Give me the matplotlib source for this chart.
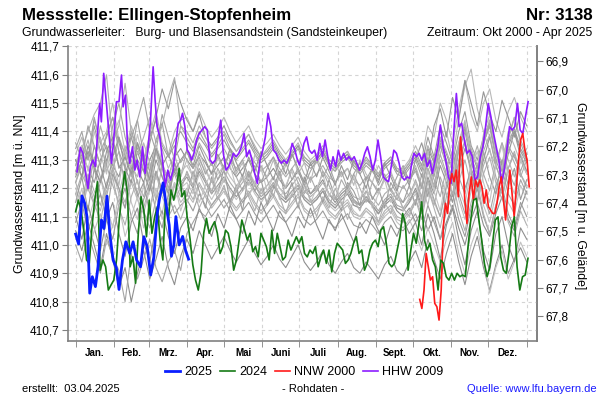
import numpy as np
import matplotlib.pyplot as plt
from matplotlib.ticker import FuncFormatter

plt.rcParams['font.family'] = ['Liberation Sans', 'DejaVu Sans']

# Gelaendehoehe der Messstelle (m ü. NN) fuer die rechte Achse
gelaende = 478.548

# Monatsgrenzen (Tag im Jahr) und Beschriftungen
month_starts = [0, 31, 59, 90, 120, 151, 181, 212, 243, 273, 304, 334, 365]
month_names = ['Jan.', 'Feb.', 'Mrz.', 'Apr.', 'Mai', 'Juni', 'Juli', 'Aug.',
               'Sept.', 'Okt.', 'Nov.', 'Dez.']

# 2025 (blau), Tag im Jahr / Wasserstand m ü. NN
days_2025 = [0, 2.4, 5.1, 7.3, 9.2, 11.4, 13.5, 16, 18.1, 20.9, 22.9, 25.4, 27.6,
             30.3, 33, 35.1, 37.9, 40.6, 43.8, 46.5, 49.3, 52.5, 55.2, 57.9, 60.7,
             63.3, 66, 68.1, 70.8, 73, 75.7, 77.5, 79.5, 81.1, 83.8, 86.6, 89, 91.4]
lvl_2025 = [411.038, 411.003, 411.173, 411.147, 411.099, 410.83, 410.888, 410.853,
            410.923, 411.088, 411.058, 411.172, 411.041, 410.947, 410.918, 410.843,
            410.947, 411.011, 410.97, 411.011, 410.947, 410.923, 411.029, 410.994,
            410.894, 410.958, 411.111, 411.17, 411.219, 411.147, 411.07, 410.96,
            411.0, 411.10, 411.0, 411.03, 410.98, 410.95]

# 2024 (gruen), ganzjaehrig, etwa alle 2,2 Tage
lvl_2024 = [411.117, 411.158, 411.123, 411.052, 410.947, 410.935, 411.064, 411.158,
            411.223, 410.911, 410.947, 410.923, 410.841, 410.859, 410.876, 410.947,
            411.088, 411.182, 411.258, 411.182, 410.923, 410.958, 410.865, 411.041,
            411.17, 411.123, 411.029, 411.158, 411.041, 411.099, 411.135, 411.017,
            410.947, 411.158, 411.088, 411.194, 411.158, 411.20, 411.27, 411.17,
            411.19, 411.09, 411.02, 410.93, 410.876, 410.841, 410.9, 411.041,
            411.094, 411.041, 411.064, 411.082, 411.041, 410.97, 410.994, 411.052,
            411.041, 410.994, 410.911, 410.947, 411.017, 411.088, 411.052, 411.017,
            411.041, 410.976, 410.994, 410.958, 411.041, 411.017, 410.994, 410.947,
            411.052, 410.97, 411.041, 410.994, 410.947, 410.958, 411.017, 410.982,
            411.006,
            411.029, 411.006, 411.029, 410.97, 410.958, 410.982, 410.97, 410.994,
            410.923, 410.958, 410.982, 410.935, 410.982, 410.905, 410.97, 411.006,
            410.994, 410.982, 410.935, 410.947, 410.97, 411.006, 411.029, 410.97,
            410.982, 410.911, 410.935, 410.982, 411.006, 411.017, 410.994, 411.052,
            411.064, 411.006, 410.935, 410.923, 410.935, 410.982, 411.029, 411.111,
            411.076, 410.911, 410.982, 411.041, 411.006, 411.076, 411.152, 411.017,
            410.982, 411.006, 410.947, 410.923, 410.841, 410.947, 410.935, 410.888,
            410.876, 410.9, 410.876, 410.9, 410.888, 410.894, 410.888, 410.994,
            411.088, 411.158, 411.164, 411.088, 411.017, 410.935, 410.888, 410.923,
            411.006, 411.088, 411.099, 410.958, 410.911, 410.9, 410.97, 411.064,
            411.099, 410.923, 410.841, 410.888, 410.894, 410.953]

# NNW 2000 (rot), Oktober bis Dezember
lvl_nnw = [410.808, 410.776, 410.841, 410.97, 410.923, 410.876, 410.888, 410.794,
           410.782, 410.735, 410.841, 411.064, 411.147, 411.111, 411.217, 411.252,
           411.223, 411.264, 411.17, 411.381, 411.299, 411.158, 411.076, 411.182,
           411.24, 411.158, 411.229, 411.205, 411.229, 411.205, 411.147, 411.194,
           411.135, 411.123, 411.111, 411.111, 411.147, 411.205, 411.24, 411.158,
           411.088, 411.182, 411.264, 411.182, 411.099, 411.205, 411.299, 411.37,
           411.393, 411.334, 411.299, 411.205]

# HHW 2009 (violett)
days_hhw_a = [1.1, 3.8, 5.9, 8.1, 10, 11.9, 14, 16, 18.1, 19.5, 20.8, 22.7, 24.9, 27,
              29, 30.8, 33, 35.1, 37.1, 38.4, 40.3, 41.9, 43.8, 46, 47.9, 49.7, 51.9,
              54.1, 56.2, 58.4, 60.6, 62.7, 64.3, 65.9, 68.1, 70.3, 72.4, 74.6, 76.8,
              78.9, 81.1, 83, 84.9, 86.5, 88.4, 90.3, 91.9, 93.8, 95.7, 97.9, 100,
              102.2, 104.4, 106.5, 108.7, 110.9, 113, 115.2, 117.4, 119.5, 121.7,
              123.8, 126, 127.6, 129.8, 132, 134.1, 136.3, 138.4, 140.6, 142.7, 144.9,
              147, 149.2, 151.4, 153.5, 155.7, 157.9, 160, 162.2, 164.4, 166.5, 168.7,
              170.9, 173, 175.2, 177.4, 179.5, 181.1]
lvl_hhw_a = [411.258, 411.344, 411.323, 411.252, 411.199, 411.276, 411.299, 411.276,
             411.417, 411.499, 411.434, 411.605, 411.499, 411.393, 411.288, 411.37,
             411.505, 411.505, 411.599, 411.487, 411.528, 411.358, 411.288, 411.346,
             411.264, 411.299, 411.24, 411.346, 411.252, 411.334, 411.44, 411.628,
             411.51, 411.417, 411.381, 411.299, 411.205, 411.264, 411.229, 411.264,
             411.358, 411.429, 411.44, 411.464, 411.417, 411.334, 411.323, 411.299,
             411.323, 411.37, 411.393, 411.405, 411.417, 411.405, 411.299, 411.288,
             411.299, 411.37, 411.44, 411.323, 411.264, 411.276, 411.299, 411.323,
             411.311, 411.323, 411.346, 411.393, 411.311, 411.334, 411.299, 411.252,
             411.217, 411.299, 411.334, 411.381, 411.464, 411.417, 411.334, 411.323,
             411.299, 411.288, 411.299, 411.288, 411.311, 411.358, 411.334, 411.299,
             411.282]
lvl_hhw_b = [411.311, 411.358, 411.381, 411.334, 411.323, 411.334, 411.299, 411.358,
             411.311, 411.37, 411.311, 411.264, 411.311, 411.276, 411.334, 411.299,
             411.323, 411.299, 411.311, 411.299, 411.311, 411.288, 411.264, 411.288,
             411.323, 411.346, 411.311, 411.264, 411.299, 411.37, 411.311, 411.24,
             411.229, 411.223, 411.276, 411.334, 411.323, 411.288, 411.24, 411.229,
             411.24, 411.235,
             411.276, 411.323, 411.311, 411.323, 411.299, 411.323, 411.276, 411.299,
             411.252, 411.299, 411.346, 411.423, 411.346, 411.299, 411.24, 411.217,
             411.393, 411.534, 411.417, 411.429, 411.37, 411.323, 411.334, 411.311,
             411.229, 411.24, 411.311, 411.346, 411.417, 411.499, 411.452, 411.393,
             411.346, 411.299, 411.217, 411.264, 411.334, 411.417, 411.405, 411.417,
             411.499, 411.405, 411.393, 411.452, 411.505]

# uebrige Jahre (grau), alle 5 Tage, in cm ueber 411,00 m ü. NN
g01 = [28, 35, 30, 42, 33, 38, 45, 36, 30, 40, 34, 29, 38, 44, 35, 31, 37, 40, 36, 33, 38, 35, 31, 34, 37, 33, 30, 33, 36, 32, 29, 31, 34, 30, 28, 32, 35, 31, 29, 30, 33, 28, 26, 30, 32, 29, 27, 31, 28, 25, 29, 31, 27, 26, 29, 33, 28, 38, 31, 42, 36, 29, 40, 47, 35, 30, 38, 43, 33, 28, 36, 41, 34, 30]
g02 = [32, 38, 30, 44, 36, 40, 50, 37, 32, 42, 35, 30, 39, 47, 36, 32, 40, 44, 45, 40, 47, 42, 38, 41, 45, 40, 36, 39, 42, 37, 34, 36, 39, 35, 32, 35, 38, 33, 30, 32, 35, 30, 28, 31, 33, 29, 27, 30, 27, 24, 28, 30, 26, 27, 30, 35, 30, 42, 38, 50, 44, 36, 48, 58, 46, 40, 50, 55, 44, 38, 47, 52, 45, 40]
g03 = [30, 24, 33, 27, 22, 30, 36, 28, 25, 32, 27, 22, 30, 35, 28, 24, 31, 34, 30, 27, 32, 29, 25, 28, 31, 27, 24, 27, 30, 25, 22, 24, 27, 23, 20, 23, 26, 21, 18, 20, 23, 18, 15, 18, 20, 16, 14, 17, 14, 11, 14, 16, 12, 10, 13, 8, 12, 5, 10, 2, 8, 14, 6, 0, 9, 15, 7, 3, 11, 17, 9, 5, 13, 19]
g04 = [18, 25, 20, 14, 22, 28, 21, 15, 24, 30, 22, 17, 26, 33, 24, 19, 27, 22, 25, 21, 27, 23, 19, 23, 26, 22, 19, 22, 25, 21, 18, 21, 24, 20, 18, 21, 24, 19, 17, 19, 22, 18, 16, 19, 21, 17, 16, 19, 17, 14, 18, 20, 16, 15, 18, 22, 16, 27, 20, 30, 24, 17, 29, 36, 25, 19, 28, 34, 24, 18, 27, 32, 25, 20]
g05 = [12, 20, 8, 16, 24, 14, 6, 18, 27, 15, 9, 21, 29, 17, 11, 23, 16, 20, 22, 18, 25, 20, 16, 20, 23, 19, 16, 19, 22, 18, 15, 18, 21, 17, 15, 18, 21, 16, 14, 16, 19, 15, 13, 16, 18, 14, 13, 16, 14, 11, 15, 17, 13, 12, 15, 18, 12, 22, 15, 10, 20, 26, 16, 9, 19, 25, 14, 8, 18, 24, 15, 11, 21, 16]
g06 = [26, 32, 27, 22, 30, 35, 28, 24, 33, 38, 30, 26, 36, 45, 55, 48, 58, 50, 44, 40, 46, 38, 35, 38, 42, 37, 33, 36, 39, 34, 31, 33, 36, 32, 29, 32, 35, 30, 28, 30, 33, 29, 27, 30, 32, 28, 26, 29, 27, 24, 28, 30, 26, 25, 28, 31, 26, 34, 29, 37, 32, 26, 35, 41, 33, 27, 36, 42, 32, 27, 35, 40, 33, 29]
g07 = [22, 16, 25, 19, 14, 22, 27, 20, 15, 23, 18, 13, 21, 26, 19, 14, 22, 17, 20, 16, 22, 18, 14, 17, 20, 16, 13, 16, 19, 15, 12, 15, 18, 14, 12, 15, 18, 13, 11, 13, 16, 12, 10, 13, 15, 11, 10, 13, 11, 8, 12, 14, 10, 9, 12, 16, 11, 20, 14, 24, 18, 12, 22, 30, 21, 15, 25, 31, 22, 16, 27, 33, 25, 21]
g08 = [34, 40, 30, 45, 36, 28, 42, 50, 38, 31, 44, 52, 40, 33, 46, 38, 30, 42, 38, 34, 40, 36, 32, 35, 39, 34, 31, 34, 37, 33, 30, 32, 35, 31, 28, 31, 34, 29, 27, 29, 32, 28, 26, 29, 31, 27, 25, 28, 26, 23, 27, 29, 25, 24, 27, 30, 24, 33, 26, 36, 30, 23, 34, 42, 31, 25, 35, 44, 33, 26, 37, 45, 36, 30]
g09 = [8, 15, 5, 12, 18, 9, 2, 14, 20, 10, 4, 16, 22, 12, 6, 18, 11, 14, 16, 12, 18, 14, 10, 13, 16, 12, 9, 12, 15, 11, 8, 11, 14, 10, 8, 11, 14, 9, 7, 9, 12, 8, 6, 9, 11, 7, 6, 9, 7, 4, 8, 10, 6, 5, 8, 11, 5, 14, 8, 2, 12, 18, 9, 3, 13, 20, 10, 4, 14, 21, 11, 6, 15, 10]
g10 = [20, 14, 23, 17, 12, 21, 26, 18, 13, 22, 16, 11, 20, 25, 17, 12, 21, 15, 18, 15, 21, 17, 13, 16, 19, 15, 12, 15, 18, 14, 11, 14, 17, 13, 11, 14, 17, 12, 10, 12, 15, 11, 9, 12, 14, 10, 9, 12, 10, 7, 11, 13, 9, 8, 11, 15, 21, 14, 26, 32, 40, 30, 45, 56, 62, 48, 40, 33, 28, 36, 30, 24, 32, 26]
g11 = [5, -2, 8, 0, -8, 4, -5, -15, -8, -20, -10, -2, -12, -5, 3, -8, -14, -4, 2, -3, 5, 0, -5, -1, 3, -2, -6, -2, 2, -3, -7, -4, 0, -5, -8, -4, 0, -6, -9, -6, -2, -7, -10, -6, -3, -8, -10, -6, -9, -12, -7, -4, -9, -11, -6, -2, -8, 2, -5, -12, -3, 4, -6, -14, -4, 3, -8, -16, -7, 0, -10, -5, -1, -6]
g12 = [22, 30, 37, 28, 42, 34, 26, 38, 32, 24, 36, 30, 21, 33, 27, 20, 29, 24, 34, 30, 36, 32, 28, 31, 34, 30, 27, 30, 33, 29, 26, 28, 31, 27, 24, 27, 30, 25, 23, 25, 28, 24, 22, 25, 27, 23, 21, 24, 22, 19, 23, 25, 21, 20, 23, 26, 20, 29, 23, 17, 27, 33, 24, 18, 28, 35, 25, 19, 29, 36, 26, 21, 30, 25]
g13 = [28, 35, 26, 40, 32, 25, 38, 44, 33, 27, 39, 30, 24, 35, 29, 23, 31, 26, 28, 24, 30, 26, 22, 25, 28, 24, 21, 23, 26, 22, 19, 21, 24, 20, 17, 19, 22, 17, 15, 16, 19, 14, 12, 14, 16, 12, 10, 12, 10, 7, 10, 12, 8, 6, 9, 4, -2, 6, 0, -6, 2, 8, -3, -10, 0, 6, -5, -17, -8, -2, -12, -6, 1, -4]
g14 = [24, 30, 22, 35, 28, 20, 31, 38, 27, 22, 33, 26, 19, 30, 24, 18, 26, 21, 24, 20, 26, 22, 18, 21, 24, 20, 17, 20, 23, 19, 16, 18, 21, 17, 15, 17, 20, 16, 14, 16, 19, 15, 13, 16, 18, 14, 13, 16, 14, 11, 15, 17, 13, 12, 15, 20, 14, 24, 18, 28, 22, 15, 26, 34, 27, 21, 30, 38, 28, 22, 32, 40, 31, 26]
g15 = [28, 34, 40, 46, 50, 60, 36, 42, 57, 40, 32, 38, 45, 36, 42, 52, 59, 42, 40, 36, 42, 38, 34, 37, 40, 36, 33, 36, 39, 35, 31, 34, 37, 33, 30, 33, 36, 31, 29, 31, 34, 30, 28, 31, 33, 29, 27, 30, 28, 25, 29, 31, 27, 26, 29, 32, 27, 35, 30, 38, 33, 27, 36, 43, 34, 28, 37, 44, 34, 29, 38, 45, 37, 32]
g16 = [0, -6, 4, -3, -10, 2, -4, -9, -20, -3, -12, -5, 2, -8, -13, -6, -2, -9, 4, 8, 12, 10, 14, 17, 13, 16, 19, 15, 18, 21, 17, 19, 22, 18, 16, 19, 21, 17, 15, 17, 20, 16, 14, 17, 19, 15, 14, 17, 15, 12, 16, 18, 14, 13, 16, 19, 13, 23, 16, 10, 21, 27, 18, 11, 22, 28, 17, 11, 21, 27, 18, 14, 23, 18]
g17 = [15, 24, 12, 27, 18, 10, 25, 20, 13, 28, 17, 22, 11, 26, 19, 14, 29, 21, 17, 26, 19, 13, 24, 18, 27, 15, 21, 12, 25, 19, 23, 14, 20, 26, 16, 22, 13, 24, 18, 21, 15, 23, 17, 12, 22, 19, 14, 24, 16, 20, 13, 22, 18, 15, 21, 14, 25, 17, 31, 22, 12, 28, 35, 20, 26, 15, 33, 24, 18, 30, 21, 27, 16, 23]
g18 = [25, 33, 22, 30, 38, 26, 31, 21, 35, 28, 24, 36, 29, 23, 34, 27, 32, 24, 30, 24, 33, 27, 22, 31, 26, 34, 25, 29, 21, 32, 27, 24, 30, 23, 28, 33, 25, 29, 22, 31, 26, 23, 29, 24, 27, 21, 30, 25, 22, 28, 24, 26, 20, 27, 23, 28, 21, 33, 26, 38, 29, 23, 36, 44, 30, 25, 39, 46, 32, 27, 40, 35, 29, 34]
g19 = [10, 2, 14, 6, -2, 9, 15, 4, -4, 8, 13, 1, -6, 7, 12, 3, -3, 6, 10, 5, 13, 8, 3, 11, 6, 14, 9, 4, 12, 7, 15, 10, 5, 12, 8, 3, 10, 6, 13, 7, 2, 9, 5, 11, 6, 1, 8, 4, 10, 5, 0, 7, 3, 9, 4, 8, 0, 11, 4, -5, 7, 13, 2, -7, 5, 12, -2, -9, 4, 10, 0, -6, 6, 2]
g20 = [22, 28, 19, 31, 24, 17, 27, 33, 21, 26, 18, 30, 23, 16, 28, 22, 25, 19, 26, 21, 29, 23, 18, 27, 22, 30, 24, 19, 26, 21, 28, 23, 17, 25, 20, 27, 22, 18, 24, 19, 26, 21, 16, 23, 19, 25, 20, 15, 22, 18, 24, 19, 16, 21, 17, 23, 17, 27, 21, 32, 25, 18, 30, 37, 26, 20, 33, 39, 28, 22, 34, 29, 24, 30]
g21 = [2, 8, -3, 5, 11, 0, 7, 14, 3, 10, 17, 6, 13, 20, 9, 16, 22, 12, 19, 24, 15, 21, 26, 18, 23, 28, 20, 25, 17, 22, 27, 19, 24, 16, 21, 26, 18, 23, 15, 20, 25, 17, 22, 14, 19, 24, 16, 21, 13, 18, 23, 15, 20, 12, 17, 22, 15, 26, 19, 12, 24, 30, 20, 14, 27, 33, 22, 15, 28, 35, 24, 18, 30, 25]
g22 = [30, 24, 35, 28, 22, 33, 38, 27, 31, 25, 36, 29, 23, 34, 28, 32, 26, 30, 33, 28, 35, 30, 25, 32, 27, 34, 29, 24, 31, 26, 33, 28, 23, 30, 25, 32, 27, 22, 29, 24, 31, 26, 21, 28, 23, 30, 25, 20, 27, 22, 29, 24, 19, 26, 21, 30, 36, 28, 42, 48, 38, 52, 44, 58, 50, 42, 54, 46, 40, 51, 45, 38, 47, 42]
g23 = [18, 11, 22, 15, 8, 19, 24, 13, 7, 17, 23, 12, 6, 16, 21, 10, 14, 9, 15, 20, 13, 18, 23, 16, 21, 14, 19, 24, 17, 12, 20, 15, 22, 17, 11, 18, 14, 21, 16, 10, 17, 13, 20, 15, 9, 16, 12, 19, 14, 8, 15, 11, 18, 13, 10, 16, 9, 20, 13, 6, 17, 23, 12, 5, 15, 22, 11, 4, 14, 20, 8, 3, 12, 7]
g24 = [36, 30, 42, 35, 28, 39, 45, 33, 27, 38, 44, 32, 26, 37, 43, 31, 35, 29, 33, 27, 31, 25, 29, 23, 28, 32, 26, 30, 24, 28, 22, 27, 31, 25, 29, 23, 27, 21, 26, 30, 24, 28, 22, 26, 20, 25, 29, 23, 27, 21, 25, 19, 24, 28, 22, 27, 20, 31, 24, 35, 28, 21, 33, 40, 29, 23, 36, 42, 30, 24, 35, 31, 26, 32]
gray_years = [g01, g02, g03, g04, g05, g06, g07, g08, g09, g10, g11, g12,
              g13, g14, g15, g16, g17, g18, g19, g20, g21, g22, g23, g24]
gray_shades = ['#9c9c9c', '#b8b8b8', '#8e8e8e', '#acacac', '#c2c2c2', '#969696', '#b0b0b0', '#a4a4a4']


def komma(v, pos):
    return f'{v:.1f}'.replace('.', ',')


fig = plt.figure(figsize=(6, 4), dpi=100)
ax = fig.add_axes([0.1133, 0.148, 0.7817, 0.736])

# graue Jahresganglinien
for i, vals in enumerate(gray_years):
    lvl = 411 + np.array(vals) / 100
    ax.plot(np.arange(len(vals)) * 5, lvl, color=gray_shades[i % len(gray_shades)],
            lw=0.8, zorder=1)

# hervorgehobene Jahre
days_2024 = np.linspace(0, 366, len(lvl_2024))
days_nnw = np.linspace(278.4, 367, len(lvl_nnw))
days_hhw = days_hhw_a + list(np.linspace(182.6, 270.3, 42)) + list(np.linspace(271.5, 366.1, 45))
l_hhw, = ax.plot(days_hhw, lvl_hhw_a + lvl_hhw_b, color='#8c1cff', lw=1.2, zorder=3)
l_nnw, = ax.plot(days_nnw, lvl_nnw, color='#ff1a1a', lw=1.2, zorder=4)
l_24, = ax.plot(days_2024, lvl_2024, color='#157a15', lw=1.2, zorder=5)
l_25, = ax.plot(days_2025, lvl_2025, color='#0a1eff', lw=2.0, zorder=6)

ax.set_xlim(-6.2, 373.3)
ax.set_ylim(410.662, 411.7)

# x-Achse: Striche an Monatsgrenzen, Namen in Monatsmitte
mids = [(a + b) / 2 for a, b in zip(month_starts[:-1], month_starts[1:])]
ax.set_xticks(mids)
ax.set_xticklabels(month_names, fontsize=7, fontweight='bold')
ax.set_xticks(month_starts, minor=True)
ax.tick_params(axis='x', which='major', length=0, pad=5)
ax.tick_params(axis='x', which='minor', length=4, color='#808080', direction='out')

y_ticks = [410.7, 410.8, 410.9, 411.0, 411.1, 411.2, 411.3, 411.4, 411.5, 411.6, 411.7]
ax.set_yticks(y_ticks)
ax.yaxis.set_major_formatter(FuncFormatter(komma))
ax.tick_params(axis='y', length=4, color='#808080', labelsize=8.5, pad=2)

ax.xaxis.grid(True, which='minor', color='#d4d4d4', ls=(0, (3, 3)), lw=0.8)
ax.yaxis.grid(True, which='major', color='#d4d4d4', ls=(0, (3, 3)), lw=0.8)
ax.set_axisbelow(True)

for s in ['left', 'right', 'bottom']:
    ax.spines[s].set_color('#808080')
    ax.spines[s].set_linewidth(1.2)
ax.spines['top'].set_visible(False)

# rechte Achse: Flurabstand
sec = ax.secondary_yaxis('right', functions=(lambda y: gelaende - y, lambda d: gelaende - d))
sec.set_yticks([66.9, 67.0, 67.1, 67.2, 67.3, 67.4, 67.5, 67.6, 67.7, 67.8])
sec.yaxis.set_major_formatter(FuncFormatter(komma))
sec.tick_params(length=4, color='#808080', labelsize=8.5, pad=2)
sec.spines['right'].set_color('#808080')
sec.spines['right'].set_linewidth(1.2)

fig.text(20 / 600, 0.517, 'Grundwasserstand [m ü. NN]', rotation=90, ha='center', va='center', fontsize=8.8)
fig.text(580 / 600, 0.512, 'Grundwasserstand [m u. Gelände]', rotation=270, ha='center', va='center', fontsize=8.8)

# Kopfzeilen
fig.text(0.037, 0.962, 'Messstelle: Ellingen-Stopfenheim', fontsize=12.2, fontweight='bold', va='center')
fig.text(0.987, 0.962, 'Nr: 3138', fontsize=12.2, fontweight='bold', va='center', ha='right')
fig.text(0.037, 0.917, 'Grundwasserleiter:   Burg- und Blasensandstein (Sandsteinkeuper)', fontsize=8.8, va='center')
fig.text(0.987, 0.917, 'Zeitraum: Okt 2000 - Apr 2025', fontsize=8.8, va='center', ha='right')

fig.legend([l_25, l_24, l_nnw, l_hhw], ['2025', '2024', 'NNW 2000', 'HHW 2009'],
           loc='center', bbox_to_anchor=(0.507, 0.07), ncol=4, frameon=False, fontsize=9,
           handlelength=1.2, handletextpad=0.35, columnspacing=0.6)

# Fusszeile
fig.text(0.037, 0.027, 'erstellt:  03.04.2025', fontsize=8, va='center')
fig.text(0.522, 0.027, '- Rohdaten -', fontsize=8, va='center', ha='center')
fig.text(0.995, 0.027, 'Quelle: www.lfu.bayern.de', fontsize=8, va='center', ha='right', color='#1a1aff')

fig.savefig('out.png', dpi=100)
